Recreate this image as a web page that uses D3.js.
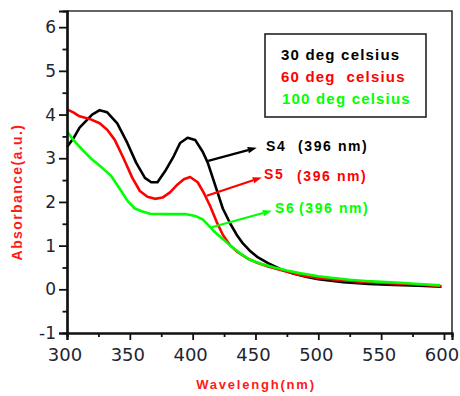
<!DOCTYPE html>
<html>
<head>
<meta charset="utf-8">
<script src="https://cdn.jsdelivr.net/npm/d3@7"></script>
<style>
  html, body { margin: 0; padding: 0; background: #fff; }
  svg { display: block; }
  .tick-label { font-family: "DejaVu Sans", sans-serif; fill: #1e2532; }
  .bold { font-family: "Liberation Sans", Arial, sans-serif; font-weight: bold; }
</style>
</head>
<body>
<div id="chart"></div>
<script>
// wavelength (nm) / absorbance (a.u.)
var wl30 = [300, 305, 310, 315, 320, 326, 332, 340, 348, 355, 362, 367, 372, 378, 385, 390, 396, 402, 408, 412, 416, 420, 424, 430, 435, 440, 446, 452, 460, 470, 480, 490, 500, 520, 540, 560, 580, 598];
var abs30 = [3.26, 3.45, 3.7, 3.85, 4.0, 4.1, 4.05, 3.8, 3.35, 2.9, 2.55, 2.45, 2.45, 2.7, 3.05, 3.35, 3.47, 3.42, 3.15, 2.9, 2.55, 2.2, 1.85, 1.5, 1.25, 1.05, 0.87, 0.73, 0.6, 0.46, 0.36, 0.29, 0.23, 0.16, 0.12, 0.1, 0.08, 0.06];

var wl60 = [300, 305, 310, 318, 326, 332, 338, 345, 352, 358, 364, 370, 376, 382, 388, 393, 398, 404, 409, 414, 419, 424, 430, 436, 444, 452, 460, 470, 485, 500, 520, 540, 565, 585, 598];
var abs60 = [4.12, 4.05, 3.96, 3.9, 3.8, 3.65, 3.42, 3.0, 2.55, 2.25, 2.12, 2.07, 2.1, 2.22, 2.4, 2.52, 2.57, 2.45, 2.2, 1.9, 1.55, 1.25, 1.0, 0.85, 0.7, 0.6, 0.52, 0.44, 0.33, 0.26, 0.2, 0.16, 0.13, 0.1, 0.07];

var wl100 = [300, 305, 312, 320, 328, 335, 342, 348, 354, 360, 366, 380, 395, 402, 408, 413, 418, 424, 430, 438, 446, 455, 465, 475, 485, 500, 512, 525, 538, 550, 565, 580, 597];
var abs100 = [3.62, 3.42, 3.2, 2.97, 2.78, 2.6, 2.3, 2.03, 1.85, 1.78, 1.73, 1.72, 1.72, 1.68, 1.6, 1.45, 1.3, 1.15, 1.0, 0.82, 0.67, 0.58, 0.5, 0.43, 0.37, 0.3, 0.26, 0.22, 0.19, 0.17, 0.15, 0.12, 0.09];

var seriesNames = ["30 deg celsius", "60 deg  celsius", "100 deg celsius"];
var seriesColors = ["#000000", "#ff0000", "#00ff00"];

// annotation arrows, in data units: [wavelength, absorbance]
var arrowLabels = ["S4", "S5", "S6"];
var arrowPeak = ["(396 nm)", "(396 nm)", "(396 nm)"];
var arrowFrom = [[412.4, 2.94], [411.2, 2.14], [415.1, 1.42]];
var arrowTo = [[451, 3.24], [455, 2.56], [463, 1.80]];

var xTicks = [300, 350, 400, 450, 500, 550, 600];
var yTicks = [-1, 0, 1, 2, 3, 4, 5, 6];

var Chart = (function (window, d3) {
  var width = 460, height = 396;
  var margin = { top: 11, right: 8, bottom: 63, left: 67 };
  var innerW = width - margin.left - margin.right;
  var innerH = height - margin.top - margin.bottom;

  var x = d3.scaleLinear().domain([300, 606.4]).range([0, innerW]);
  var y = d3.scaleLinear().domain([-1, 6.37]).range([innerH, 0]);

  var svg = d3.select('#chart').append('svg')
    .attr('width', width).attr('height', height);
  var g = svg.append('g')
    .attr('transform', 'translate(' + margin.left + ',' + margin.top + ')');

  // frame top + right
  g.append('path')
    .attr('d', 'M0,0H' + innerW + 'V' + innerH)
    .attr('fill', 'none').attr('stroke', '#333').attr('stroke-width', 1.6);

  // curves
  var line = d3.line()
    .x(function (d) { return x(d[0]); })
    .y(function (d) { return y(d[1]); });

  var series = [
    d3.zip(wl30, abs30),
    d3.zip(wl60, abs60),
    d3.zip(wl100, abs100)
  ];
  // black drawn first, green last (green sits on top in the tail)
  [0, 1, 2].forEach(function (i) {
    g.append('path').datum(series[i])
      .attr('d', line)
      .attr('fill', 'none')
      .attr('stroke', seriesColors[i])
      .attr('stroke-width', 2.6)
      .attr('stroke-linejoin', 'round');
  });

  // axes
  var xAxis = d3.axisBottom(x).tickValues(xTicks).tickSize(7).tickFormat('');
  var xMinor = d3.axisBottom(x).tickValues(d3.range(325, 600, 50)).tickSize(4).tickFormat('');
  var yAxis = d3.axisLeft(y).tickValues(yTicks).tickSize(8).tickFormat('');
  var yMinor = d3.axisLeft(y).tickValues(d3.range(-0.5, 6, 1)).tickSize(4.5).tickFormat('');

  [g.append('g').attr('transform', 'translate(0,' + innerH + ')').call(xAxis),
   g.append('g').attr('transform', 'translate(0,' + innerH + ')').call(xMinor),
   g.append('g').call(yAxis),
   g.append('g').call(yMinor)].forEach(function (ax) {
    ax.select('.domain').attr('stroke', '#111').attr('stroke-width', 2.2);
    ax.selectAll('.tick line').attr('stroke', '#111').attr('stroke-width', 1.8);
  });

  g.selectAll('.xlab').data(xTicks).enter().append('text')
    .attr('class', 'tick-label')
    .attr('x', function (d) { return x(d) - 2; })
    .attr('y', innerH + 28)
    .attr('text-anchor', 'middle')
    .style('font-size', '18px')
    .text(function (d) { return d; });

  g.selectAll('.ylab').data(yTicks).enter().append('text')
    .attr('class', 'tick-label')
    .attr('x', -11)
    .attr('y', function (d) { return y(d) + 6; })
    .attr('text-anchor', 'end')
    .style('font-size', '17px')
    .text(function (d) { return d; });

  // axis titles
  svg.append('text').attr('class', 'bold')
    .attr('x', 256).attr('y', 389)
    .attr('text-anchor', 'middle')
    .style('font-size', '13px').style('letter-spacing', '1.8px')
    .attr('fill', '#ff1a1a')
    .text('Wavelengh(nm)');

  svg.append('text').attr('class', 'bold')
    .attr('transform', 'translate(22,192) rotate(-90)')
    .attr('text-anchor', 'middle')
    .style('font-size', '14px').style('letter-spacing', '1.4px')
    .attr('fill', '#ff1a1a')
    .text('Absorbance(a.u.)');

  // legend
  var legend = svg.append('g');
  legend.append('rect')
    .attr('x', 265).attr('y', 34).attr('width', 161).attr('height', 83)
    .attr('fill', '#fff').attr('stroke', '#222').attr('stroke-width', 1.6);
  legend.selectAll('text').data(seriesNames).enter().append('text')
    .attr('class', 'bold')
    .attr('x', function (d, i) { return i === 2 ? 282 : 281; })
    .attr('y', function (d, i) { return 60 + i * 22; })
    .attr('fill', function (d, i) { return seriesColors[i]; })
    .style('font-size', '15px').style('letter-spacing', '1.2px')
    .style('white-space', 'pre')
    .text(function (d) { return d; });

  // arrows + labels
  var labelX = [266, 264, 275];
  var labelY = [151, 179, 213];
  var peakX = [298, 297, 299];
  var peakY = [151, 181, 213];
  arrowLabels.forEach(function (lab, i) {
    var x0 = x(arrowFrom[i][0]), y0 = y(arrowFrom[i][1]);
    var x1 = x(arrowTo[i][0]), y1 = y(arrowTo[i][1]);
    var ang = Math.atan2(y1 - y0, x1 - x0);
    var len = 9, half = 3.2;
    var bx = x1 - len * Math.cos(ang), by = y1 - len * Math.sin(ang);
    var px = -Math.sin(ang) * half, py = Math.cos(ang) * half;
    svg.append('line')
      .attr('x1', margin.left + x0).attr('y1', margin.top + y0)
      .attr('x2', margin.left + bx).attr('y2', margin.top + by)
      .attr('stroke', seriesColors[i]).attr('stroke-width', 2.2);
    svg.append('path')
      .attr('transform', 'translate(' + margin.left + ',' + margin.top + ')')
      .attr('d', 'M' + x1 + ',' + y1 + 'L' + (bx + px) + ',' + (by + py) + 'L' + (bx - px) + ',' + (by - py) + 'Z')
      .attr('fill', seriesColors[i]);
    svg.append('text').attr('class', 'bold')
      .attr('x', labelX[i]).attr('y', labelY[i])
      .attr('fill', seriesColors[i])
      .style('font-size', '14px').style('letter-spacing', '1.6px')
      .text(lab);
    svg.append('text').attr('class', 'bold')
      .attr('x', peakX[i]).attr('y', peakY[i])
      .attr('fill', seriesColors[i])
      .style('font-size', '14px').style('letter-spacing', '1.6px')
      .text(arrowPeak[i]);
  });

  return { svg: svg };
})(window, d3);
</script>
</body>
</html>
